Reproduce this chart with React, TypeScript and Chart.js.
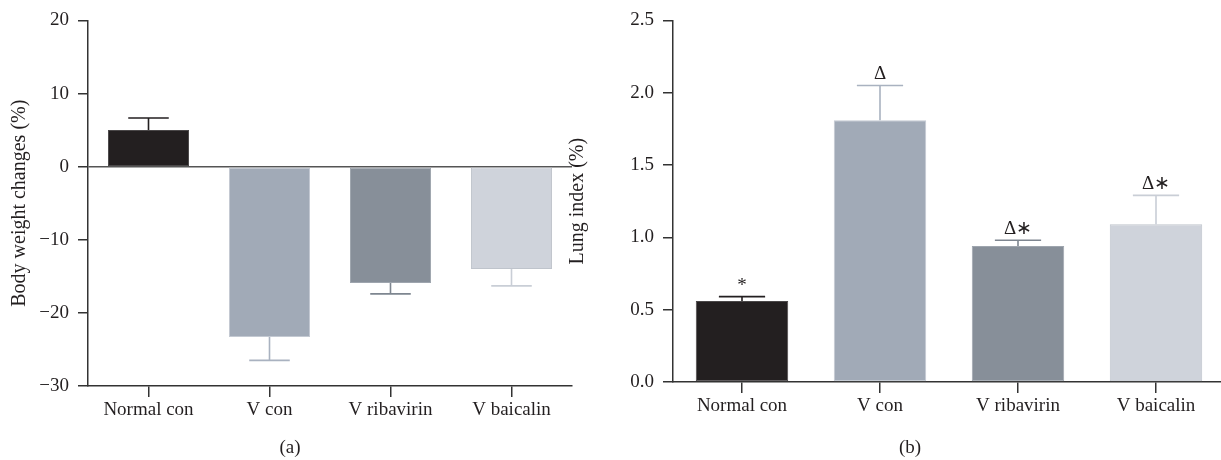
import React, { useEffect, useRef } from "react";
import { Chart, registerables } from "chart.js";

Chart.register(...registerables);

const categories = ["Normal con", "V con", "V ribavirin", "V baicalin"];
const bodyWeight = [5.0, -23.3, -15.9, -14.0];
const bodyWeightErr = [1.65, 3.2, 1.5, 2.3];
const lungIndex = [0.56, 1.81, 0.94, 1.09];
const lungIndexErr = [0.03, 0.24, 0.04, 0.2];
const lungSigns = ["*", "Δ", "Δ∗", "Δ∗"];
const weightTicks = [20, 10, 0, -10, -20, -30];
const lungTicks = [0.0, 0.5, 1.0, 1.5, 2.0, 2.5];

const barColors = ["#231f20", "#a1aab7", "#878f99", "#cfd3db"];
const barBorders = ["#4a4748", "#c3c9d2", "#9ea5ae", "#bfc4cc"];
const errColors = ["#231f20", "#a9b2c0", "#7e8690", "#c9ced6"];
const FONT = "'Liberation Serif', 'Times New Roman', serif";
const TEXT = "#231f20";
const FS = 19;

function errorBarPlugin(errs: number[], signs: string[] | null) {
  return {
    id: "errbars",
    afterDatasetsDraw(chart: any) {
      const meta = chart.getDatasetMeta(0);
      const ys = chart.scales.y;
      const ds = chart.data.datasets[0];
      const ctx = chart.ctx;
      ctx.save();
      meta.data.forEach((bar: any, i: number) => {
        const v = ds.data[i] as number;
        const end = v >= 0 ? v + errs[i] : v - errs[i];
        const yv = ys.getPixelForValue(v);
        const ye = ys.getPixelForValue(end);
        const half = bar.width / 4;
        ctx.strokeStyle = errColors[i];
        ctx.lineWidth = 1.6;
        ctx.beginPath();
        ctx.moveTo(bar.x, yv);
        ctx.lineTo(bar.x, ye);
        ctx.moveTo(bar.x - half, ye);
        ctx.lineTo(bar.x + half, ye);
        ctx.stroke();
        if (signs) {
          ctx.fillStyle = TEXT;
          ctx.font = `${FS}px ${FONT}`;
          ctx.textAlign = "center";
          ctx.textBaseline = "alphabetic";
          ctx.fillText(signs[i], bar.x, ye - 6);
        }
      });
      ctx.restore();
    },
  };
}

function fmtWeight(v: number) {
  return v < 0 ? "\u2212" + Math.abs(v) : String(v);
}

function makeConfig(opts: any) {
  const {
    values, errs, signs, min, max, ticks, fmt, title, yWidth, xHeight, padding, titlePad, zeroLine,
  } = opts;
  return {
    type: "bar",
    data: {
      labels: categories,
      datasets: [
        {
          data: values,
          backgroundColor: barColors,
          borderColor: barBorders,
          borderWidth: 1,
          borderSkipped: false,
          barPercentage: 0.67,
          categoryPercentage: 1.0,
        },
      ],
    },
    options: {
      animation: false,
      responsive: false,
      devicePixelRatio: 1,
      layout: { padding },
      plugins: { legend: { display: false }, tooltip: { enabled: false } },
      scales: {
        x: {
          grid: {
            offset: false,
            drawOnChartArea: false,
            drawTicks: true,
            tickLength: 11,
            tickColor: "#333",
            lineWidth: 1.5,
          },
          border: { display: true, color: "#333", width: 1.5 },
          ticks: { color: TEXT, font: { family: FONT, size: FS }, padding: 2, maxRotation: 0 },
          afterFit: (s: any) => { s.height = xHeight; },
        },
        y: {
          min, max,
          afterBuildTicks: (s: any) => { s.ticks = ticks.map((v: number) => ({ value: v })); },
          ticks: {
            color: TEXT,
            font: { family: FONT, size: FS },
            padding: 9,
            callback: (v: any) => fmt(Number(v)),
          },
          grid: {
            drawOnChartArea: zeroLine,
            color: (c: any) => (c.tick && c.tick.value === 0 ? "#555" : "rgba(0,0,0,0)"),
            tickColor: "#333",
            tickLength: 10,
            lineWidth: 1.5,
          },
          border: { display: true, color: "#333", width: 1.5 },
          title: {
            display: true,
            text: title,
            color: TEXT,
            font: { family: FONT, size: 20 },
            padding: { top: titlePad, bottom: 0 },
          },
          afterFit: (s: any) => { s.width = yWidth; },
        },
      },
    },
    plugins: [errorBarPlugin(errs, signs)],
  } as any;
}

function BarPanel(props: any) {
  const ref = useRef<HTMLCanvasElement>(null);
  useEffect(() => {
    const chart = new Chart(ref.current as HTMLCanvasElement, makeConfig(props.cfg));
    return () => chart.destroy();
  }, []);
  return (
    <canvas
      ref={ref}
      width={props.w}
      height={460}
      style={{ position: "absolute", left: props.left, top: 0, width: props.w, height: 460 }}
    />
  );
}

const panelLabel: React.CSSProperties = {
  position: "absolute",
  top: 436,
  fontFamily: FONT,
  fontSize: FS,
  color: TEXT,
  lineHeight: "22px",
  transform: "translateX(-50%)",
};

export default function App() {
  return (
    <div style={{ position: "absolute", left: 0, top: 0, width: 1221, height: 460, overflow: "hidden", background: "#fff" }}>
      <BarPanel
        left={0}
        w={585}
        cfg={{
          values: bodyWeight, errs: bodyWeightErr, signs: null,
          min: -30, max: 20, ticks: weightTicks, fmt: fmtWeight,
          title: "Body weight changes (%)", yWidth: 88, xHeight: 74,
          padding: { left: 0, right: 13, top: 17, bottom: 0 }, titlePad: 8, zeroLine: true,
        }}
      />
      <BarPanel
        left={560}
        w={665}
        cfg={{
          values: lungIndex, errs: lungIndexErr, signs: lungSigns,
          min: 0, max: 2.5, ticks: lungTicks, fmt: (v: number) => v.toFixed(1),
          title: "Lung index (%)", yWidth: 113, xHeight: 78,
          padding: { left: 0, right: 0, top: 15, bottom: 0 }, titlePad: 6, zeroLine: false,
        }}
      />
      <div style={{ ...panelLabel, left: 290 }}>(a)</div>
      <div style={{ ...panelLabel, left: 910 }}>(b)</div>
    </div>
  );
}
